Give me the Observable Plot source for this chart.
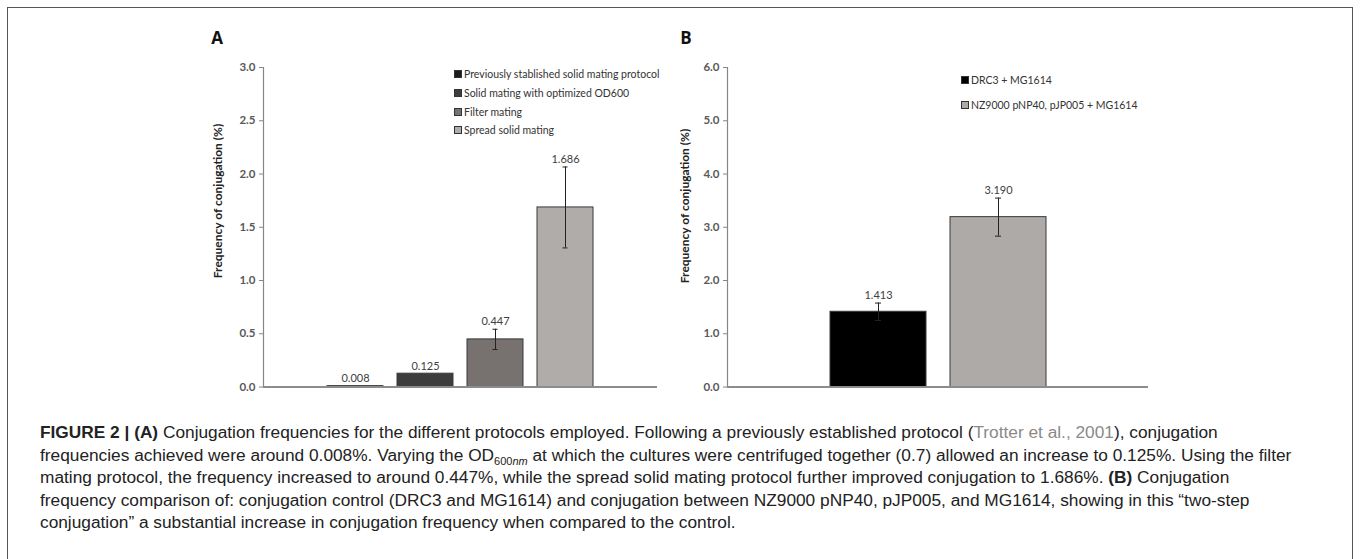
<!DOCTYPE html>
<html><head><meta charset="utf-8">
<script src="https://cdn.jsdelivr.net/npm/d3@7"></script>
<script src="https://cdn.jsdelivr.net/npm/@observablehq/plot@0.6"></script>
<style>
body{margin:0;background:#fff;}
#fig{position:relative;width:1360px;height:559px;overflow:hidden;font-family:Lato,sans-serif;background:#fff;}
#box{position:absolute;left:7px;top:7px;width:1346px;height:620px;border:1.5px solid #555;box-sizing:border-box;}
.panel{position:absolute;top:0;}
.letter{position:absolute;font:bold 17px "Open Sans",sans-serif;color:#111;transform:translate(-50%,-50%);}
.ytitle{position:absolute;font:bold 12px Lato,sans-serif;color:#222;white-space:nowrap;transform:translate(-50%,-50%) rotate(-90deg);}
.legend{position:absolute;font:10.5px Lato,sans-serif;color:#333;}
.legend .row{display:flex;align-items:center;white-space:nowrap;}
.sw{width:6px;height:6px;border:1px solid #333;margin-right:2px;}
#caption{position:absolute;left:40px;top:421px;font:17.3px "Liberation Sans",Arial,sans-serif;line-height:22.5px;color:#222;white-space:nowrap;}
#caption .ref{color:#8a8a8a;}
#caption sub{font-size:11px;line-height:0;}
</style>
</head><body>
<div id="fig">
  <div id="box"></div>
  <div id="panelA" class="panel" style="left:0"></div>
  <div id="panelB" class="panel" style="left:680px"></div>
  <div class="letter" style="left:217px;top:37px">A</div>
  <div class="letter" style="left:686px;top:37px">B</div>
  <div class="ytitle" id="ytA" style="left:217px;top:201px"></div>
  <div class="ytitle" id="ytB" style="left:684px;top:206px"></div>
  <div class="legend" id="legA" style="left:454px;top:65px"></div>
  <div class="legend" id="legB" style="left:961px;top:67px"></div>
  <div id="caption"><b>FIGURE 2 | (A)</b> Conjugation frequencies for the different protocols employed. Following a previously established protocol (<span class="ref">Trotter et al., 2001</span>), conjugation<br>frequencies achieved were around 0.008%. Varying the OD<sub>600<i>nm</i></sub> at which the cultures were centrifuged together (0.7) allowed an increase to 0.125%. Using the filter<br>mating protocol, the frequency increased to around 0.447%, while the spread solid mating protocol further improved conjugation to 1.686%. <b>(B)</b> Conjugation<br>frequency comparison of: conjugation control (DRC3 and MG1614) and conjugation between NZ9000 pNP40, pJP005, and MG1614, showing in this “two-step<br>conjugation” a substantial increase in conjugation frequency when compared to the control.</div>
</div>
<script>
// ---- data ----
const yTitle = "Frequency of conjugation (%)";
const seriesA = ["Previously stablished solid mating protocol", "Solid mating with optimized OD600", "Filter mating", "Spread solid mating"];
const valuesA = [0.008, 0.125, 0.447, 1.686];
const errorsA = [0, 0, 0.095, 0.38];
const ticksA = [0, 0.5, 1.0, 1.5, 2.0, 2.5, 3.0];
const colorsA = ["#1b1b1b", "#3d3d3d", "#77716f", "#b0acaa"];

const seriesB = ["DRC3 + MG1614", "NZ9000 pNP40, pJP005 + MG1614"];
const valuesB = [1.413, 3.190];
const errorsB = [0.163, 0.357];
const ticksB = [0, 1, 2, 3, 4, 5, 6];
const colorsB = ["#000000", "#aeaaa8"];

function panel({series, values, errors, ticks, colors, width, left, right, ymax, capInset}) {
  const data = series.map((name, i) => ({name, value: values[i], error: errors[i]}));
  const withErr = data.filter(d => d.error > 0);
  return Plot.plot({
    width, height: 420,
    marginLeft: left, marginRight: width - right, marginTop: 67, marginBottom: 33.5,
    style: {fontFamily: "Lato, sans-serif", fontSize: "11px", background: "transparent", color: "#595959"},
    x: {domain: series, paddingInner: 0.2, paddingOuter: series.length === 4 ? 0.88 : 0.854, axis: null},
    y: {domain: [0, ymax], axis: null},
    color: {domain: series, range: colors},
    marks: [
      Plot.axisY(ticks, {tickFormat: d3.format(".1f"), tickSize: 4, tickPadding: 4, label: null, stroke: "#868686", fill: "#595959", fontWeight: "bold", fontSize: 11.5}),
      Plot.frame({anchor: "left", stroke: "#868686", strokeWidth: 1.2}),
      Plot.barY(data, {x: "name", y: "value", fill: "name", stroke: "#3a3a3a", strokeWidth: 1}),
      Plot.ruleY([0], {stroke: "#8c8c8c", strokeWidth: 2}),
      Plot.ruleX(withErr, {x: "name", y1: d => d.value - d.error, y2: d => d.value + d.error, stroke: "#222", strokeWidth: 1}),
      Plot.tickY(withErr, {x: "name", y: d => d.value + d.error, stroke: "#222", insetLeft: capInset, insetRight: capInset}),
      Plot.tickY(withErr, {x: "name", y: d => d.value - d.error, stroke: "#222", insetLeft: capInset, insetRight: capInset}),
      Plot.text(data, {x: "name", y: d => d.value + d.error, text: d => d.value.toFixed(3), lineAnchor: "bottom", dy: -4, fill: "#404040", fontSize: 11})
    ]
  });
}

document.getElementById("panelA").append(panel({series: seriesA, values: valuesA, errors: errorsA, ticks: ticksA, colors: colorsA, width: 680, left: 263, right: 657, ymax: 3, capInset: 25.5}));
document.getElementById("panelB").append(panel({series: seriesB, values: valuesB, errors: errorsB, ticks: ticksB, colors: colorsB, width: 680, left: 47, right: 468, ymax: 6, capInset: 45}));

document.getElementById("ytA").textContent = yTitle;
document.getElementById("ytB").textContent = yTitle;

function legend(id, series, colors, rowH) {
  const el = document.getElementById(id);
  series.forEach((s, i) => {
    const row = document.createElement("div");
    row.className = "row";
    row.style.height = rowH + "px";
    const sw = document.createElement("span");
    sw.className = "sw";
    sw.style.background = colors[i];
    const t = document.createElement("span");
    t.textContent = s;
    row.append(sw, t);
    el.append(row);
  });
}
legend("legA", seriesA, colorsA, 18.7);
legend("legB", seriesB, colorsB, 25);
</script>
</body></html>
